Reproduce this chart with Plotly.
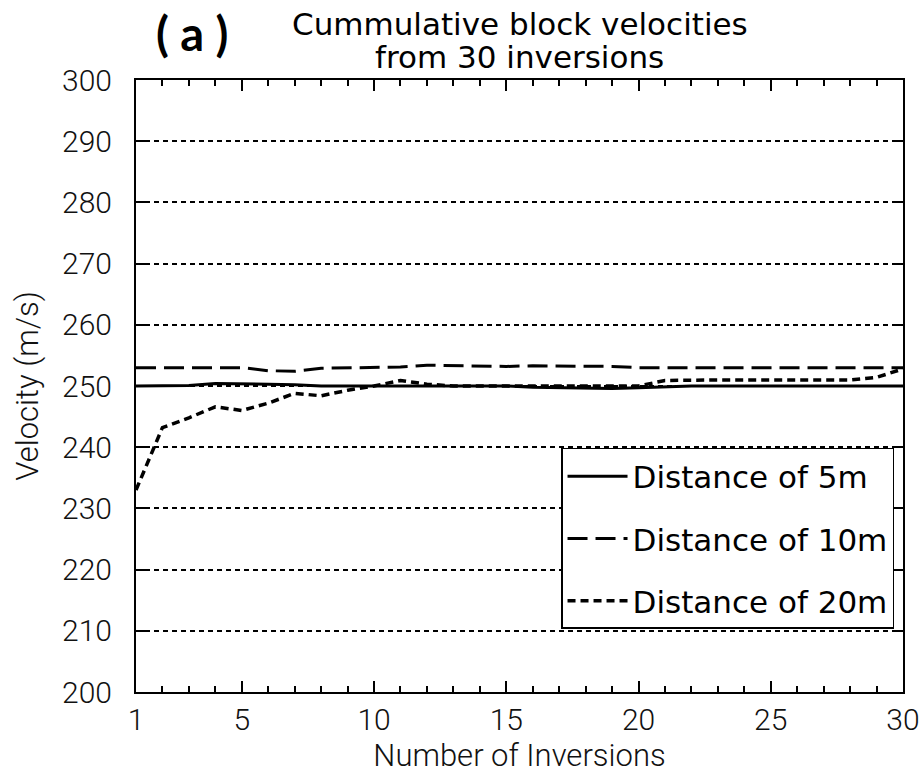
import plotly.graph_objects as go

inversions = list(range(1, 31))
v_5m = [250, 250, 250.1, 250.4, 250.4, 250.3, 250.2, 250, 250, 250,
        250, 250, 250, 250, 250, 249.8, 249.7, 249.7, 249.6, 249.7,
        249.9, 250, 250, 250, 250, 250, 250, 250, 250, 250]
v_10m = [253, 253, 253, 253, 253, 252.5, 252.4, 252.9, 253, 253,
         253.1, 253.4, 253.3, 253.2, 253.2, 253.3, 253.3, 253.2, 253.2, 253,
         253, 253, 253, 253, 253, 253, 253, 253, 253, 253]
v_20m = [233, 243.2, 244.8, 246.6, 246, 247.2, 248.8, 248.4, 249.3, 250,
         250.9, 250.3, 250, 250, 250, 250, 250, 250, 250, 250,
         250.9, 251, 251, 251, 251, 251, 251, 251, 251.4, 252.8]
series_names = ["Distance of 5m", "Distance of 10m", "Distance of 20m"]
x_tick_vals = [1, 5, 10, 15, 20, 25, 30]
y_tick_vals = [200, 210, 220, 230, 240, 250, 260, 270, 280, 290, 300]

THIN = "Roboto, Liberation Sans, Arial, sans-serif"
WIDE = "DejaVu Sans, Verdana, sans-serif"

fig = go.Figure()
fig.add_trace(go.Scatter(x=inversions, y=v_5m, mode="lines", name=series_names[0],
                         legendgroup="a",
                         line=dict(color="black", width=3, dash="solid")))
fig.add_trace(go.Scatter(x=inversions, y=v_10m, mode="lines", name=series_names[1],
                         legendgroup="b",
                         line=dict(color="black", width=3, dash="20px,8px")))
fig.add_trace(go.Scatter(x=inversions, y=v_20m, mode="lines", name=series_names[2],
                         legendgroup="c",
                         line=dict(color="black", width=3.5, dash="8px,5px")))

fig.update_layout(
    width=923, height=774,
    margin=dict(l=136, r=20, t=80, b=82, autoexpand=False),
    paper_bgcolor="white", plot_bgcolor="white",
    font=dict(family=THIN, size=30, color="#111", weight=300),
    showlegend=True,
    legend=dict(
        x=0.9883, y=0.3987, xanchor="right", yanchor="top",
        bordercolor="black", borderwidth=1.5, bgcolor="white",
        font=dict(family=WIDE, size=31, color="black", weight=400),
        itemwidth=60, tracegroupgap=19,
    ),
    annotations=[
        dict(text="Cummulative block velocities",
             xref="paper", yref="paper", x=0.5, y=1.0915, yanchor="middle",
             showarrow=False,
             font=dict(family=WIDE, size=31, color="black", weight=400)),
        dict(text="from 30 inversions",
             xref="paper", yref="paper", x=0.5, y=1.0376, yanchor="middle",
             showarrow=False,
             font=dict(family=WIDE, size=31, color="black", weight=400)),
        dict(text="<b>( a )</b>", xref="paper", yref="paper",
             x=0.024, y=1.077, yanchor="middle", xanchor="left",
             showarrow=False,
             font=dict(family="Lato, Open Sans, sans-serif", size=47, color="black")),
    ],
)

fig.update_xaxes(
    range=[1, 30], tickvals=x_tick_vals, automargin=False,
    ticks="inside", ticklen=11, tickwidth=2, tickcolor="black",
    minor=dict(dtick=1, tick0=1, ticks="inside", ticklen=6, tickwidth=2,
               tickcolor="black", showgrid=False),
    showline=True, linecolor="black", linewidth=2, mirror="ticks",
    showgrid=False, zeroline=False,
    tickfont=dict(family=THIN, size=30, color="#111", weight=300),
    title=dict(text="Number of Inversions",
               font=dict(family=THIN, size=31, color="#111", weight=300),
               standoff=4),
)
fig.update_yaxes(
    range=[200, 300], tickvals=y_tick_vals, automargin=False,
    ticks="inside", ticklen=9, tickwidth=2, tickcolor="black",
    showline=True, linecolor="black", linewidth=2, mirror="ticks",
    showgrid=True, gridcolor="black", gridwidth=1.5, griddash="5px,4px",
    zeroline=False, ticklabelstandoff=16,
    tickfont=dict(family=THIN, size=30, color="#111", weight=300),
    title=dict(text="Velocity (m/s)",
               font=dict(family=THIN, size=31, color="#111", weight=300),
               standoff=14),
)

fig.write_html("out.html")
